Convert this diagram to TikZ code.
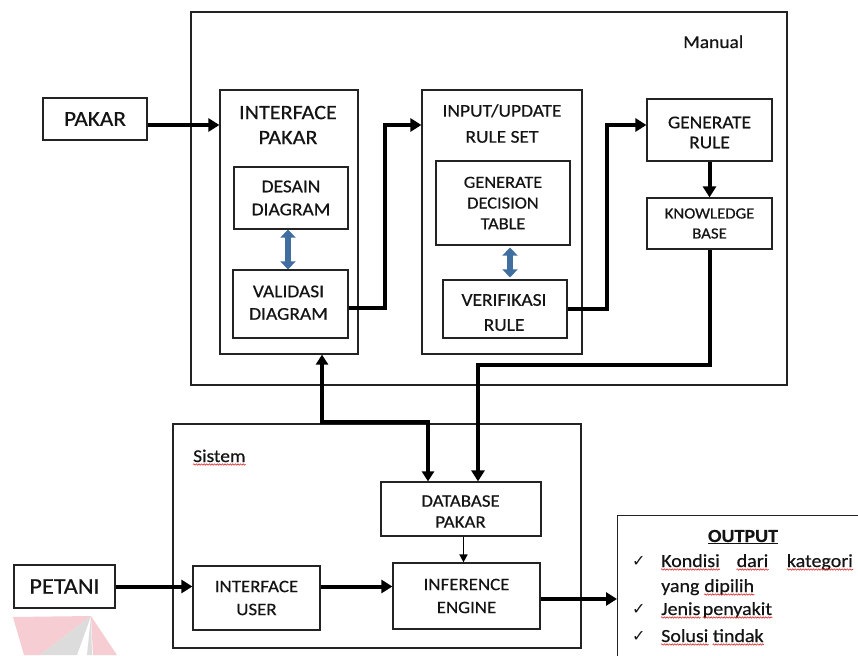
\documentclass[tikz,border=0pt]{standalone}
\usepackage{fontspec}
\setmainfont{Carlito}[FakeStretch=1.08,FakeBold=0.5]
\newfontfamily\symfont{DejaVu Sans}
\usetikzlibrary{arrows.meta,decorations.pathmorphing,calc}
\definecolor{ink}{RGB}{20,20,20}
\definecolor{boxline}{RGB}{35,35,35}
\definecolor{steel}{RGB}{65,110,160}
\definecolor{wmpink}{RGB}{245,205,210}
\definecolor{wmgray}{RGB}{220,220,220}
\definecolor{squigred}{RGB}{225,40,40}
\newcommand{\fsz}[2]{\fontsize{#1}{#2}\selectfont}

\begin{document}
\begin{tikzpicture}[x=1pt,y=-1pt,
  box/.style={draw=boxline, line width=1.2pt, rectangle, inner sep=0pt, text=ink, align=center},
  txt/.style={text=ink, inner sep=0pt, align=center},
  word/.style={text=ink, inner sep=0pt, anchor=base west, font=\fsz{18.5}{22}},
  chk/.style={text=ink, inner sep=0pt, anchor=base west, font=\symfont\fsz{16}{16}},
  flow/.style={draw=black, line width=4pt, line join=miter, -{Triangle[length=11pt,width=13pt]}},
  link/.style={draw=black, line width=3.2pt, line join=miter,
    {Triangle[length=10pt,width=12pt]}-{Triangle[length=10pt,width=12pt]}},
  fine/.style={draw=black, line width=1.6pt, -{Triangle[length=8pt,width=8pt]}},
  dbl/.style={draw=steel, line width=6pt,
    {Triangle[length=8pt,width=15pt]}-{Triangle[length=8pt,width=15pt]}},
  squig/.style={draw=squigred, line width=0.6pt, decorate,
    decoration={snake, amplitude=0.7pt, segment length=2.6pt}}
]
\clip (0,0) rectangle (858,655);
\fill[white] (0,0) rectangle (858,655);

% faint logo in the lower left corner
\fill[wmpink] (13,617) -- (91,616) -- (40,655) -- (24,655) -- cycle;
\fill[wmgray] (91,616) -- (77,655) -- (40,655) -- cycle;
\fill[wmgray] (91,616) -- (92,655) -- (87,655) -- cycle;
\fill[wmpink] (91,616) -- (117,655) -- (93,655) -- cycle;

% ---------------- Manual part ----------------
\node[box, minimum width=596, minimum height=373] (manual) at (489,198.5) {};
\node[txt, anchor=base west, font=\fsz{18}{22}] (manual-t) at (683,48) {Manual};

\node[box, minimum width=104, minimum height=42, font=\fsz{21.5}{24}] (pakar) at (95,119) {PAKAR};

\node[box, minimum width=138, minimum height=264] (ipakar) at (289,222) {};
\node[txt, font=\fsz{20.5}{25}] (ipakar-t) at (288,125) {INTERFACE\\PAKAR};
\node[box, minimum width=114, minimum height=62, font=\fsz{18}{23}] (desain) at (291,198) {DESAIN\\DIAGRAM};
\node[box, minimum width=115, minimum height=68] (validasi) at (290.5,304) {};
\node[txt, font=\fsz{18}{22.5}] (validasi-t) at (288.5,302.7) {VALIDASI\\DIAGRAM};

\node[box, minimum width=160, minimum height=264] (inrule) at (502,222) {};
\node[txt, font=\fsz{18}{26}] (inrule-t) at (502,123.5) {INPUT/UPDATE\\RULE SET};
\node[box, minimum width=134, minimum height=84, font=\fsz{17}{20.7}] (gdt) at (503,203) {GENERATE\\DECISION\\TABLE};
\node[box, minimum width=124, minimum height=58] (verif) at (505,309) {};
\node[txt, font=\fsz{18}{25}] (verif-t) at (504,312.5) {VERIFIKASI\\RULE};

\node[box, minimum width=125, minimum height=62] (genrule) at (709.5,130) {};
\node[txt, font=\fsz{18}{20}] (genrule-t) at (709.5,132.5) {GENERATE\\RULE};
\node[box, minimum width=125, minimum height=51, font=\fsz{15.5}{20}] (kb) at (709.5,223.5) {KNOWLEDGE\\BASE};

% ---------------- System part ----------------
\node[box, minimum width=408, minimum height=224] (sistem) at (377,536) {};
\node[txt, anchor=base west, font=\fsz{18}{22}] (sistem-t) at (193,462) {Sistem};
\draw[squig] ([yshift=-2.5pt]sistem-t.base west) -- ([yshift=-2.5pt]sistem-t.base east);

\node[box, minimum width=160, minimum height=54] (db) at (461,509) {};
\node[txt, font=\fsz{17.5}{21}] (db-t) at (460.5,511.5) {DATABASE\\PAKAR};
\node[box, minimum width=147, minimum height=66, font=\fsz{17.5}{23}] (ie) at (466.5,596) {INFERENCE\\ENGINE};
\node[box, minimum width=127, minimum height=64, font=\fsz{17.5}{23}] (iu) at (256.5,598) {INTERFACE\\USER};
\node[box, minimum width=101, minimum height=43, font=\fsz{22.5}{25}] (petani) at (64.5,586.5) {PETANI};

% ---------------- Output ----------------
\node[box, minimum width=260, minimum height=170, anchor=north west] (output) at (617,515) {};
\node[txt, anchor=base, font=\bfseries\fsz{18.5}{22}] (out-t) at (743,542) {\underline{OUTPUT}};

\node[chk] (c1) at (632,566) {✓};
\node[word] (w-kondisi) at (661,567) {Kondisi};
\node[word, anchor=base] (w-dari) at (752.5,567) {dari};
\node[word, anchor=base east] (w-kategori) at (853,567) {kategori};
\node[word] (w-yang) at (661,592) {yang};
\node[word] (w-dipilih) at ([xshift=4.5pt]w-yang.base east) {dipilih};
\node[chk] (c2) at (632,614) {✓};
\node[word] (w-jenis) at (661,615) {Jenis};
\node[word] (w-penyakit) at ([xshift=2pt]w-jenis.base east) {penyakit};
\node[chk] (c3) at (632,641) {✓};
\node[word] (w-solusi) at (661,642) {Solusi};
\node[word] (w-tindak) at ([xshift=4pt]w-solusi.base east) {tindak};

\foreach \w in {w-kondisi,w-dari,w-kategori,w-dipilih,w-jenis,w-penyakit,w-solusi,w-tindak}
  \draw[squig] ([yshift=-2.5pt]\w.base west) -- ([yshift=-2.5pt]\w.base east);

% ---------------- Connectors ----------------
\coordinate (pk) at ([yshift=-6pt]pakar.east);
\draw[flow] (pk) -- (pk -| ipakar.west);

\draw[dbl] ([xshift=-3pt]desain.south) -- ([xshift=-3pt]desain.south |- validasi.north);
\draw[dbl] ([xshift=7pt,yshift=-2pt]gdt.south) -- ([xshift=7pt,yshift=2pt]gdt.south |- verif.north);

\coordinate (vbend) at (385,125);
\draw[flow] ([yshift=-4pt]validasi.east) -| (vbend) -- (vbend -| inrule.west);

\coordinate (rbend) at (607,125);
\draw[flow] (verif.east) -| (rbend) -- (rbend -| genrule.west);

\draw[flow] (genrule.south) -- (kb.north);

\coordinate (kbturn) at (478,365);
\draw[flow] (kb.south) |- (kbturn) -- (kbturn |- db.north);

\coordinate (split) at (322,422);
\coordinate (dbdrop) at (428,422);
\draw[link] (split |- ipakar.south) -- (split) -- (dbdrop) -- (dbdrop |- db.north);

\draw[fine] ([xshift=2.5pt]db.south) -- ([xshift=2.5pt]db.south |- ie.north);

\draw[flow] (petani.east) -- (petani.east -| iu.west);
\draw[flow] (petani.east -| iu.east) -- (petani.east -| ie.west);
\coordinate (ieout) at ([yshift=-3pt]ie.east);
\draw[flow] (ieout) -- (ieout -| output.west);
\end{tikzpicture}
\end{document}
